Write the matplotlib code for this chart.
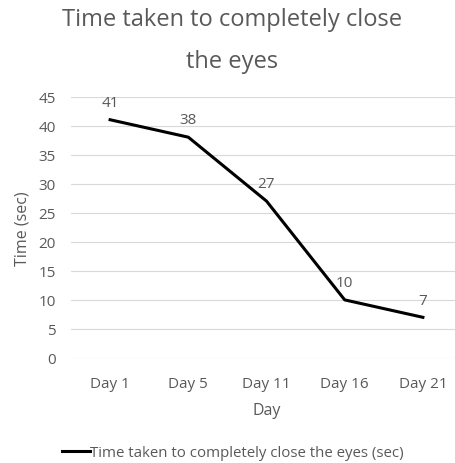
import matplotlib
matplotlib.use("Agg")
import matplotlib.pyplot as plt

plt.rcParams['font.family'] = ['Open Sans', 'DejaVu Sans']

days = ["Day 1", "Day 5", "Day 11", "Day 16", "Day 21"]
close_time = [41, 38, 27, 10, 7]
y_ticks = [0, 5, 10, 15, 20, 25, 30, 35, 40, 45]

grey = "#595959"

fig = plt.figure(figsize=(4.56, 4.64), dpi=100)
ax = fig.add_axes([71/456, 1 - 359/464, 391/456, (359 - 97.5)/464])

x = list(range(len(days)))
line, = ax.plot(x, close_time, color="black", linewidth=2.2,
                label="Time taken to completely close the eyes (sec)")
for xi, v in zip(x, close_time):
    ax.annotate(str(v), (xi, v), xytext=(0, 7), textcoords="offset points",
                ha="center", va="bottom", fontsize=11, color=grey)

ax.set_xlim(-0.5, len(days) - 0.5)
ax.set_ylim(0, 45)
ax.set_yticks(y_ticks)
ax.set_xticks(x)
ax.set_xticklabels(days)
ax.tick_params(axis="both", length=0, labelsize=11, labelcolor=grey)
ax.tick_params(axis="y", pad=11)
ax.tick_params(axis="x", pad=13)
ax.grid(axis="y", color="#d9d9d9", linewidth=0.8)
ax.set_axisbelow(True)
for s in ax.spines.values():
    s.set_visible(False)

ax.set_xlabel("Day", fontsize=11.5, color=grey, labelpad=8)
ax.set_ylabel("Time (sec)", fontsize=11.5, color=grey, labelpad=6)

fig.text(232/456, 1 - 20/464, "Time taken to completely close", ha="center", va="center",
         fontsize=17, color=grey)
fig.text(232/456, 1 - 62/464, "the eyes", ha="center", va="center",
         fontsize=17, color=grey)

fig.legend(handles=[line], loc="center", bbox_to_anchor=(233/456, 1 - 454/464),
           frameon=False, fontsize=10.8, labelcolor=grey, handlelength=1.9,
           handletextpad=0.0)

fig.savefig("out.png", dpi=100)
